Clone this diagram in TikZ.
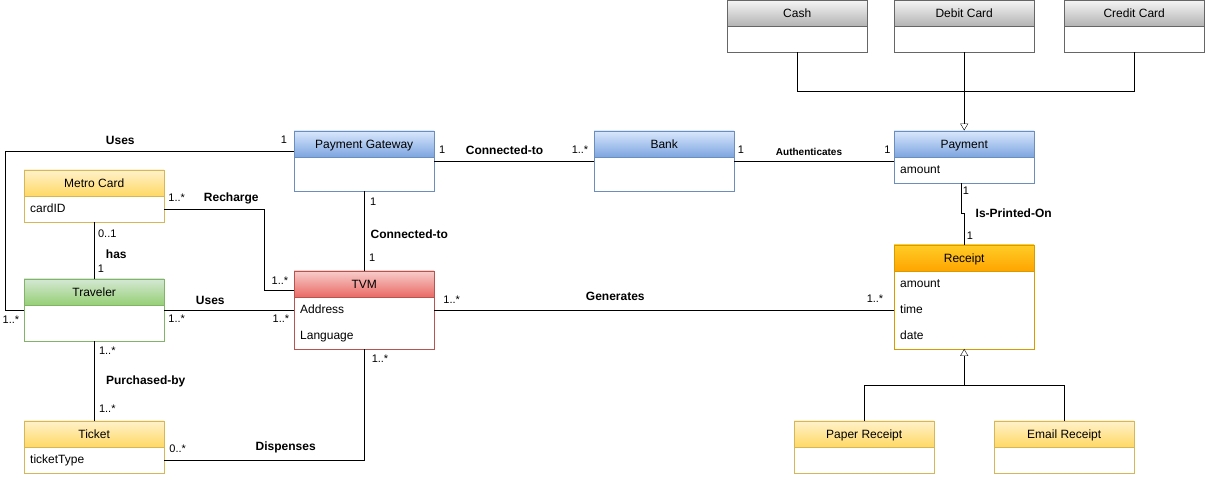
\documentclass[tikz,border=0pt]{standalone}
\usepackage{fontspec}
\setmainfont{Liberation Sans}
\usetikzlibrary{arrows.meta, positioning}
\definecolor{bluetop}{HTML}{DAE8FC}\definecolor{bluebot}{HTML}{7EA6E0}\definecolor{blueline}{HTML}{6C8EBF}
\definecolor{greentop}{HTML}{D5E8D4}\definecolor{greenbot}{HTML}{97D077}\definecolor{greenline}{HTML}{82B366}
\definecolor{yellowtop}{HTML}{FFF2CC}\definecolor{yellowbot}{HTML}{FFD966}\definecolor{yellowline}{HTML}{D6B656}
\definecolor{redtop}{HTML}{F8CECC}\definecolor{redbot}{HTML}{EA6B66}\definecolor{redline}{HTML}{B85450}
\definecolor{graytop}{HTML}{F5F5F5}\definecolor{graybot}{HTML}{B3B3B3}\definecolor{grayline}{HTML}{666666}
\definecolor{orangetop}{HTML}{FFCD28}\definecolor{orangebot}{HTML}{FFA500}\definecolor{orangeline}{HTML}{D79B00}
\tikzset{line width=1pt,
	classbox/.style={draw=#1line, fill=white, minimum width=140pt, inner sep=0pt},
	classhead/.style={draw=#1line, top color=#1top, bottom color=#1bot, minimum width=140pt, minimum height=26pt, inner sep=0pt, text height=8.6pt, text depth=0pt, font=\fontsize{12}{14}\selectfont},
	attr/.style={anchor=west, inner sep=0pt, text height=8.6pt, text depth=0pt, font=\fontsize{12}{14}\selectfont},
	mult/.style={inner sep=0pt, text height=7.9pt, text depth=0pt, font=\fontsize{11}{13}\selectfont},
	assoc/.style={inner sep=0pt, text height=8.6pt, text depth=0pt, font=\bfseries\fontsize{12}{14}\selectfont},
	genarrow/.style={-{Triangle[open, width=8pt, length=7pt]}}}
% class box with a shaded title row
\newcommand{\umlclass}[5]{%
	\node[classbox=#2, minimum height=#4pt, anchor=north west] (#1) at #3 {};
	\node[classhead=#2, anchor=north] (#1-head) at (#1.north) {#5};}

\begin{document}
\begin{tikzpicture}[x=1pt, y=-1pt]
	\useasboundingbox (0,0) rectangle (1206,476);
	\umlclass{cash}{gray}{(727,0)}{52}{Cash}
	\umlclass{debit}{gray}{(894,0)}{52}{Debit Card}
	\umlclass{credit}{gray}{(1064,0)}{52}{Credit Card}
	\umlclass{payment}{blue}{(894,130.5)}{52}{Payment}
	\umlclass{bank}{blue}{(594,130.5)}{60}{Bank}
	\umlclass{pg}{blue}{(294,130.5)}{60}{Payment Gateway}
	\umlclass{metro}{yellow}{(24,169.5)}{52}{Metro Card}
	\umlclass{traveler}{green}{(24,278.5)}{62}{Traveler}
	\umlclass{tvm}{red}{(294,270.5)}{78}{TVM}
	\umlclass{ticket}{yellow}{(24,420.5)}{52}{Ticket}
	\umlclass{receipt}{orange}{(894,244.5)}{104}{Receipt}
	\umlclass{paper}{yellow}{(794,420.5)}{52}{Paper Receipt}
	\umlclass{email}{yellow}{(994,420.5)}{52}{Email Receipt}

	% attributes
	\node[attr] (payment-a1) at ([xshift=6pt, yshift=-39pt]payment.north west) {amount};
	\node[attr] (metro-a1) at ([xshift=6pt, yshift=-39pt]metro.north west) {cardID};
	\node[attr] (ticket-a1) at ([xshift=6pt, yshift=-39pt]ticket.north west) {ticketType};
	\foreach \txt [count=\i] in {Address, Language}
		\node[attr] (tvm-a\i) at ([xshift=6pt, yshift={-(13+26*\i)}]tvm.north west) {\txt};
	\foreach \txt [count=\i] in {amount, time, date}
		\node[attr] (receipt-a\i) at ([xshift=6pt, yshift={-(13+26*\i)}]receipt.north west) {\txt};

	% generalisations
	\coordinate (payjoin) at ([yshift=-39pt]debit.south);
	\coordinate (rcjoin) at ([yshift=-36pt]receipt.south);
	\draw (cash.south) |- (payjoin) -| (credit.south);
	\draw[genarrow] (debit.south) -- (payment.north);
	\draw (paper.north) |- (rcjoin) -| (email.north);
	\draw[genarrow] (rcjoin) -- (receipt.south);

	% associations
	\draw ([yshift=10pt]pg.west) -| ([xshift=-19pt]traveler.west) -- (traveler.west);
	\draw ([yshift=-13pt]metro.east) -| ([xshift=-30pt, yshift=19.5pt]tvm.west) -- ([yshift=19.5pt]tvm.west);
	\draw (metro.south) -- (traveler.north);
	\draw (traveler.east) -- (tvm.west);
	\draw (pg.south) -- (tvm.north);
	\draw (pg.east) -- (bank.west);
	\draw (bank.east) -- (bank.east -| payment.west);
	\draw (tvm.east) -- (tvm.east -| receipt.west);
	\draw ([xshift=-3pt]payment.south) |- ([yshift=31pt]receipt.north) -- (receipt.north);
	\draw (traveler.south) -- (ticket.north);
	\draw ([yshift=-13pt]ticket.east) -| (tvm.south);

	% association names
	\node[assoc] (uses-top) at (120.3,139.7) {Uses};
	\node[assoc] (recharge) at (231.3,197) {Recharge};
	\node[assoc] (has) at (116.3,253.7) {has};
	\node[assoc] (uses-mid) at (210.3,300) {Uses};
	\node[assoc] (conn-v) at (409.3,234) {Connected-to};
	\node[assoc] (conn-h) at (504.5,150) {Connected-to};
	\node[assoc, text height=7.2pt, font=\bfseries\fontsize{10}{12}\selectfont] (auth) at (809,151.7) {Authenticates};
	\node[assoc] (generates) at (615.3,295.7) {Generates};
	\node[assoc] (printed) at (1013.7,213.3) {Is-Printed-On};
	\node[assoc] (purchased) at (145.7,380) {Purchased-by};
	\node[assoc] (dispenses) at (285.7,445.7) {Dispenses};

	% multiplicities
	\node[mult] (m1) at (284,140) {1};
	\node[mult] (m2) at (11,320) {1..*};
	\node[mult] (m3) at (176.7,197.3) {1..*};
	\node[mult] (m4) at (280,280.3) {1..*};
	\node[mult] (m5) at (107.3,233.3) {0..1};
	\node[mult] (m6) at (101,268.3) {1};
	\node[mult] (m7) at (176.7,319) {1..*};
	\node[mult] (m8) at (281,319) {1..*};
	\node[mult] (m9) at (373.3,201.7) {1};
	\node[mult] (m10) at (372.3,257.7) {1};
	\node[mult] (m11) at (442.3,150) {1};
	\node[mult] (m12) at (580,150) {1..*};
	\node[mult] (m13) at (741,150) {1};
	\node[mult] (m14) at (887.3,150) {1};
	\node[mult] (m15) at (451.7,300) {1..*};
	\node[mult] (m16) at (875,298.3) {1..*};
	\node[mult] (m17) at (966,190.3) {1};
	\node[mult] (m18) at (970,236) {1};
	\node[mult] (m19) at (107.3,350.7) {1..*};
	\node[mult] (m20) at (107.3,409) {1..*};
	\node[mult] (m21) at (177.7,449) {0..*};
	\node[mult] (m22) at (380,358.3) {1..*};
\end{tikzpicture}
\end{document}
